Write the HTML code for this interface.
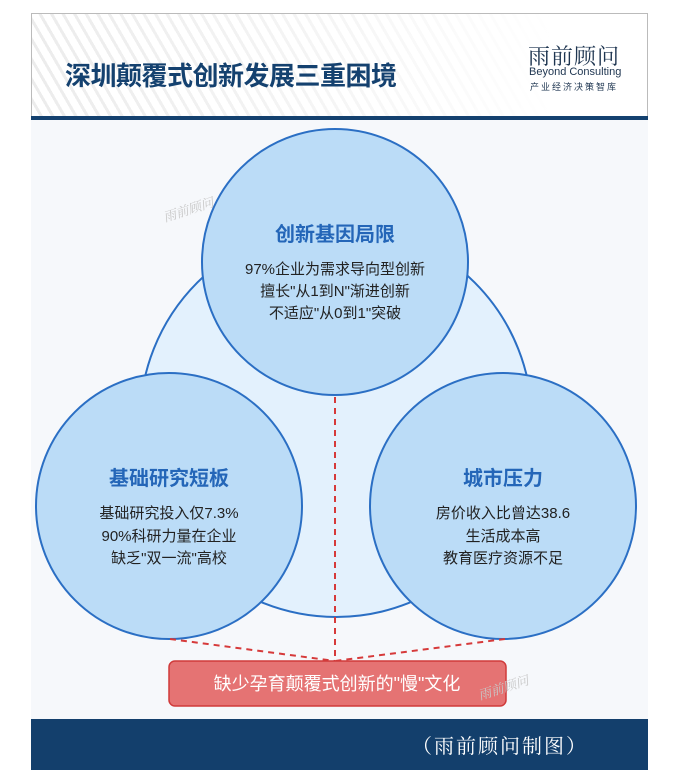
<!DOCTYPE html>
<html><head><meta charset="utf-8"><style>
body{margin:0;width:687px;height:775px;background:#fff;overflow:hidden;font-family:"Liberation Sans","Noto Sans CJK SC",sans-serif;}
.hdr{position:absolute;left:31px;top:13px;width:617px;height:104px;border:1px solid #bbb;border-bottom:none;box-sizing:border-box;
background:repeating-linear-gradient(60deg,#fff 0 7px,#ececec 7px 10px);}
.hdr:after{content:"";position:absolute;inset:0;background:linear-gradient(90deg,rgba(255,255,255,0) 0%,rgba(255,255,255,0.5) 50%,#fff 85%);}
.bar{position:absolute;left:31px;top:116px;width:617px;height:4px;background:#14416f;}
.body{position:absolute;left:31px;top:120px;width:617px;height:599px;background:#f6f8fb;}
.foot{position:absolute;left:31px;top:719px;width:617px;height:51px;background:#133f6c;}
.t{position:absolute;z-index:2;}
</style></head><body>
<div class="hdr"></div><div class="bar"></div><div class="body"></div><div class="foot"></div>
<div class="t" style="left:65px;top:56px;font-size:26px;font-weight:bold;color:#14416f;letter-spacing:-0.5px;">深圳颠覆式创新发展三重困境</div>
<div class="t" style="left:528px;top:40px;font-size:22px;color:#1e3550;font-family:'Noto Serif CJK SC',serif;letter-spacing:1px;">雨前顾问</div>
<div class="t" style="left:529px;top:66px;font-size:11px;color:#1e3550;">Beyond Consulting</div>
<div class="t" style="left:530px;top:80px;font-size:9px;color:#1e3550;letter-spacing:2px;">产业经济决策智库</div>
<svg class="t" style="left:0;top:0" width="687" height="775">
<circle cx="336" cy="421" r="196" fill="#e3f1fd" stroke="#2b6fc4" stroke-width="2"/>
<circle cx="335" cy="262" r="133" fill="#bbdcf7" stroke="#2b6fc4" stroke-width="2"/>
<circle cx="169" cy="506" r="133" fill="#bbdcf7" stroke="#2b6fc4" stroke-width="2"/>
<circle cx="503" cy="506" r="133" fill="#bbdcf7" stroke="#2b6fc4" stroke-width="2"/>
<g stroke="#d63a3a" stroke-width="2" stroke-dasharray="6,5" fill="none">
<line x1="335" y1="397" x2="335" y2="660"/>
<line x1="170" y1="639" x2="335" y2="661"/>
<line x1="505" y1="639" x2="335" y2="661"/>
</g>
<rect x="169" y="661" width="337" height="45" rx="6" fill="#e57373" stroke="#d03b3b" stroke-width="1.5"/>
<g font-family="Liberation Sans,Noto Sans CJK SC,sans-serif" text-anchor="middle">
<text x="335" y="241" font-size="20" font-weight="bold" fill="#2466b8">创新基因局限</text>
<text x="335" y="274" font-size="15" fill="#222">97%企业为需求导向型创新</text>
<text x="335" y="296" font-size="15" fill="#222">擅长"从1到N"渐进创新</text>
<text x="335" y="318" font-size="15" fill="#222">不适应"从0到1"突破</text>
<text x="169" y="485" font-size="20" font-weight="bold" fill="#2466b8">基础研究短板</text>
<text x="169" y="518" font-size="15" fill="#222">基础研究投入仅7.3%</text>
<text x="169" y="541" font-size="15" fill="#222">90%科研力量在企业</text>
<text x="169" y="563" font-size="15" fill="#222">缺乏"双一流"高校</text>
<text x="503" y="485" font-size="20" font-weight="bold" fill="#2466b8">城市压力</text>
<text x="503" y="518" font-size="15" fill="#222">房价收入比曾达38.6</text>
<text x="503" y="541" font-size="15" fill="#222">生活成本高</text>
<text x="503" y="563" font-size="15" fill="#222">教育医疗资源不足</text>
<text x="337" y="690" font-size="18" fill="#fff">缺少孕育颠覆式创新的"慢"文化</text>
<text x="500" y="753" font-size="20" fill="#fff" font-family="Noto Serif CJK SC,serif" letter-spacing="2">（雨前顾问制图）</text>
</g>
<text x="165" y="222" font-size="13" fill="#c8c8c8" font-style="italic" transform="rotate(-18 165 222)" font-family="Noto Serif CJK SC,serif">雨前顾问</text>
<text x="480" y="700" font-size="13" fill="#c8c8c8" font-style="italic" transform="rotate(-18 480 700)" font-family="Noto Serif CJK SC,serif">雨前顾问</text>
</svg>
</body></html>
